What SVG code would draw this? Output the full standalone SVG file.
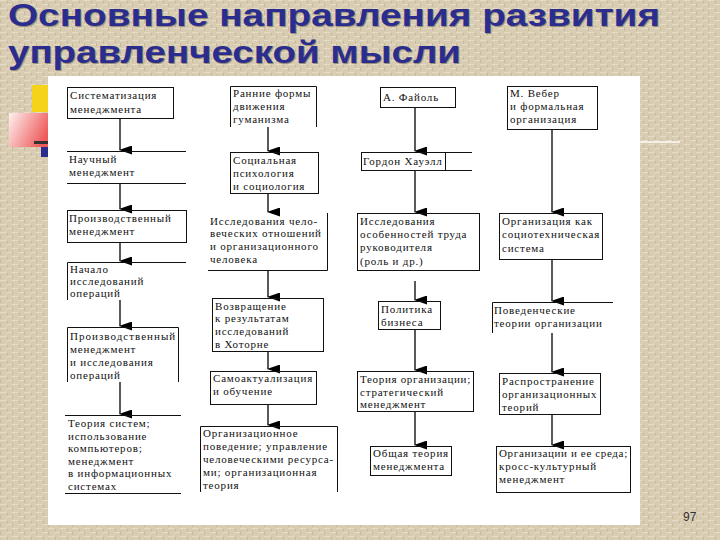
<svg xmlns="http://www.w3.org/2000/svg" width="720" height="540" viewBox="0 0 720 540">
<defs>
<pattern id="tex" width="12" height="8" patternUnits="userSpaceOnUse">
<rect width="12" height="8" fill="#d8ccb2"/>
<rect x="0" y="0" width="6" height="1" fill="#e6dcc6"/>
<rect x="6" y="4" width="6" height="1" fill="#e6dcc6"/>
<rect x="0" y="3" width="1" height="4" fill="#c8b99b"/>
<rect x="7" y="1" width="1" height="3" fill="#c8b99b"/>
</pattern>
<linearGradient id="pink" x1="0" y1="0" x2="1" y2="0.4">
<stop offset="0" stop-color="#fff0f0"/>
<stop offset="1" stop-color="#ee5a5a"/>
</linearGradient>
<marker id="ah" markerWidth="9" markerHeight="13" refX="4.5" refY="12" orient="auto-start-reverse" markerUnits="userSpaceOnUse" viewBox="0 0 9 13">
<path d="M0,0 L9,0 L4.5,13 Z" fill="#000"/>
</marker>
<style>
.t{font-family:'Liberation Serif','Times New Roman',serif;font-size:11px;fill:#111;letter-spacing:0.8px}
.b{fill:none;stroke:#111;stroke-width:1}
.c{stroke:#000;stroke-width:1.3;fill:none;marker-end:url(#ah)}
.title{font-family:'Liberation Sans',Arial,sans-serif;font-weight:bold;font-size:32px;fill:#2b2d8e}
.sh{fill:#9a8f7a}
</style>
</defs>
<rect width="720" height="540" fill="url(#tex)"/>
<g id="title">
<text class="title sh" x="9" y="27" textLength="652" lengthAdjust="spacingAndGlyphs">Основные направления развития</text>
<text class="title" x="8" y="26" textLength="652" lengthAdjust="spacingAndGlyphs">Основные направления развития</text>
<text class="title sh" x="9" y="64" textLength="453" lengthAdjust="spacingAndGlyphs">управленческой мысли</text>
<text class="title" x="8" y="63" textLength="453" lengthAdjust="spacingAndGlyphs">управленческой мысли</text>
</g>
<g id="deco">
<rect x="32" y="85" width="20" height="27" fill="#f5d31a"/>
<rect x="9" y="113" width="42" height="34" fill="url(#pink)"/>
<rect x="34" y="141" width="16" height="3" fill="#333"/>
<rect x="41" y="147" width="10" height="10" fill="#2b2d8e"/>
<rect x="640" y="141" width="40" height="2" fill="#f4f0e8"/>
</g>
<rect id="panel" x="48" y="76" width="592" height="449" fill="#ffffff"/>
<g id="connectors">
<line class="c" x1="120" y1="118" x2="120" y2="150"/>
<line class="c" x1="120" y1="183" x2="120" y2="209"/>
<line class="c" x1="120" y1="242" x2="120" y2="261"/>
<line class="c" x1="120" y1="300" x2="120" y2="326"/>
<line class="c" x1="120" y1="382" x2="120" y2="414"/>
<line class="c" x1="268" y1="127" x2="268" y2="151"/>
<line class="c" x1="268" y1="193" x2="268" y2="212"/>
<line class="c" x1="268" y1="270" x2="268" y2="297"/>
<line class="c" x1="268" y1="351" x2="268" y2="369"/>
<line class="c" x1="268" y1="404" x2="268" y2="425"/>
<line class="c" x1="415" y1="108" x2="415" y2="151"/>
<line class="c" x1="415" y1="170" x2="415" y2="212"/>
<line class="c" x1="415" y1="281" x2="415" y2="300"/>
<line class="c" x1="415" y1="329" x2="415" y2="370"/>
<line class="c" x1="415" y1="411" x2="415" y2="445"/>
<line class="c" x1="552" y1="129" x2="552" y2="212"/>
<line class="c" x1="552" y1="259" x2="552" y2="301"/>
<line class="c" x1="552" y1="333" x2="552" y2="372"/>
<line class="c" x1="552" y1="414" x2="552" y2="445"/>
</g>
<g id="a1"><rect class="b" x="67.5" y="87.5" width="106" height="31"/>
<text class="t" x="70" y="99">Систематизация</text><text class="t" x="70" y="113">менеджмента</text></g>
<g id="a2"><path class="b" d="M67,151.5 H186 M67,183.5 H186"/>
<text class="t" x="69" y="163">Научный</text><text class="t" x="69" y="176">менеджмент</text></g>
<g id="a3"><rect class="b" x="67.5" y="210.5" width="119" height="32"/>
<text class="t" x="69" y="222">Производственный</text><text class="t" x="69" y="235">менеджмент</text></g>
<g id="a4"><path class="b" d="M67.5,300 V262.5 H186"/>
<text class="t" x="70" y="273">Начало</text><text class="t" x="70" y="285">исследований</text><text class="t" x="70" y="297">операций</text></g>
<g id="a5"><path class="b" d="M67.5,382 V327.5 H178.5 V382"/>
<text class="t" x="70" y="340" textLength="106">Производственный</text><text class="t" x="70" y="353">менеджмент</text><text class="t" x="70" y="366">и исследования</text><text class="t" x="70" y="379">операций</text></g>
<g id="a6"><path class="b" d="M65,415.5 H181 M65,493.5 H181"/>
<text class="t" x="68" y="427">Теория систем;</text><text class="t" x="68" y="440">использование</text><text class="t" x="68" y="452">компьютеров;</text><text class="t" x="68" y="465">менеджмент</text><text class="t" x="68" y="477">в информационных</text><text class="t" x="68" y="490">системах</text></g>
<g id="b1"><path class="b" d="M230.5,127 V86.5 H316.5 V127"/>
<text class="t" x="233" y="97">Ранние формы</text><text class="t" x="233" y="110">движения</text><text class="t" x="233" y="123">гуманизма</text></g>
<g id="b2"><rect class="b" x="230.5" y="152.5" width="88" height="41"/>
<text class="t" x="233" y="164">Социальная</text><text class="t" x="233" y="177">психология</text><text class="t" x="233" y="190">и социология</text></g>
<g id="b3"><path class="b" d="M208,270.5 H327.5 V213"/>
<text class="t" x="210" y="225">Исследования чело-</text><text class="t" x="210" y="237">веческих отношений</text><text class="t" x="210" y="250">и организационного</text><text class="t" x="210" y="263">человека</text></g>
<g id="b4"><rect class="b" x="212.5" y="298.5" width="111" height="53"/>
<text class="t" x="215" y="310">Возвращение</text><text class="t" x="215" y="322">к результатам</text><text class="t" x="215" y="335">исследований</text><text class="t" x="215" y="348">в Хоторне</text></g>
<g id="b5"><rect class="b" x="210.5" y="371.5" width="106" height="33"/>
<text class="t" x="213" y="382">Самоактуализация</text><text class="t" x="213" y="395">и обучение</text></g>
<g id="b6"><path class="b" d="M200.5,492 V426.5 H337.5 V492"/>
<text class="t" x="203" y="437">Организационное</text><text class="t" x="203" y="450">поведение; управление</text><text class="t" x="203" y="463" textLength="131">человеческими ресурса-</text><text class="t" x="203" y="476">ми; организационная</text><text class="t" x="203" y="489">теория</text></g>
<g id="c1"><rect class="b" x="380.5" y="87.5" width="75" height="20"/>
<text class="t" x="383" y="101">А. Файоль</text></g>
<g id="c2"><path class="b" d="M361.5,152.5 H472 M361.5,170.5 H472 M361.5,152 V171 M445.5,152 V171"/>
<text class="t" x="363" y="165">Гордон Хауэлл</text></g>
<g id="c3"><rect class="b" x="357.5" y="213.5" width="122" height="57"/>
<text class="t" x="360" y="225">Исследования</text><text class="t" x="360" y="238">особенностей труда</text><text class="t" x="360" y="251">руководителя</text><text class="t" x="360" y="265">(роль и др.)</text></g>
<g id="c4"><rect class="b" x="378.5" y="301.5" width="62" height="28"/>
<text class="t" x="381" y="313">Политика</text><text class="t" x="381" y="326">бизнеса</text></g>
<g id="c5"><rect class="b" x="357.5" y="371.5" width="116" height="40"/>
<text class="t" x="360" y="383" textLength="111">Теория организации;</text><text class="t" x="360" y="396">стратегический</text><text class="t" x="360" y="408">менеджмент</text></g>
<g id="c6"><rect class="b" x="370.5" y="446.5" width="81" height="29"/>
<text class="t" x="373" y="457">Общая теория</text><text class="t" x="373" y="470">менеджмента</text></g>
<g id="d1"><rect class="b" x="507.5" y="86.5" width="90" height="43"/>
<text class="t" x="510" y="97">М. Вебер</text><text class="t" x="510" y="110">и формальная</text><text class="t" x="510" y="123">организация</text></g>
<g id="d2"><rect class="b" x="499.5" y="213.5" width="103" height="46"/>
<text class="t" x="502" y="225">Организация как</text><text class="t" x="502" y="238" textLength="98">социотехническая</text><text class="t" x="502" y="252">система</text></g>
<g id="d3"><path class="b" d="M492.5,333 V302.5 H613"/>
<text class="t" x="494" y="314">Поведенческие</text><text class="t" x="494" y="327">теории организации</text></g>
<g id="d4"><rect class="b" x="499.5" y="373.5" width="101" height="41"/>
<text class="t" x="502" y="385">Распространение</text><text class="t" x="502" y="398">организационных</text><text class="t" x="502" y="411">теорий</text></g>
<g id="d5"><rect class="b" x="496.5" y="446.5" width="134" height="46"/>
<text class="t" x="499" y="457" textLength="129">Организации и ее среда;</text><text class="t" x="499" y="470">кросс-культурный</text><text class="t" x="499" y="483">менеджмент</text></g>
<text x="683" y="521" style="font-family:'Liberation Sans',sans-serif;font-size:12px;fill:#333">97</text>
</svg>
